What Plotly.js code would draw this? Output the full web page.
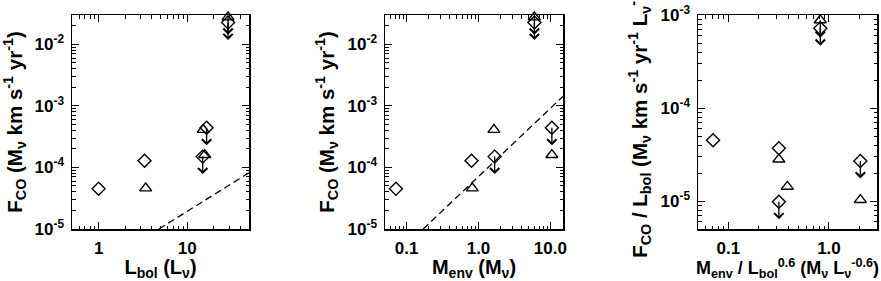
<!DOCTYPE html>
<html>
<head>
<meta charset="utf-8">
<script src="https://cdn.plot.ly/plotly-3.0.1.min.js"></script>
<style>html,body{margin:0;padding:0;background:#fff;}#chart{width:881px;height:281px;}</style>
</head>
<body>
<div id="chart"></div>
<script>
// ---- Data ----
// Panel 1: F_CO vs L_bol
const lbolDiamond = [1.0, 3.3, 16.6, 15.0, 29];
const fcoDiamond  = [4.5e-5, 1.28e-4, 4.4e-4, 1.5e-4, 0.0226];
const limDiamond  = [false, false, true, true, true];

const lbolTriangle = [3.4, 15.2, 15.8, 29];
const fcoTriangle  = [4.6e-5, 4.1e-4, 1.6e-4, 0.0276];
const limTriangle  = [false, false, false, true];

// Panel 2: F_CO vs M_env
const menvDiamond  = [0.071, 0.80, 10.5, 1.68, 6.0];
const menvTriangle = [0.82, 1.64, 10.5, 6.0];

// Panel 3: F_CO/L_bol vs M_env/L_bol^0.6
const ratioXDiamond  = [0.0705, 0.318, 2.05, 0.318, 0.82];
const ratioYDiamond  = [4.5e-5, 3.7e-5, 2.7e-5, 9.8e-6, 7.2e-4];
const ratioXTriangle = [0.386, 0.318, 2.05, 0.82];
const ratioYTriangle = [1.43e-5, 2.8e-5, 1.03e-5, 8.8e-4];

// Dashed relations (end points)
const relLbolX = [4.8, 50];
const relLbolY = [1.0e-5, 8.2e-5];
const relMenvX = [0.17, 15];
const relMenvY = [1.0e-5, 1.43e-3];

// Tick labels
const yTickVals12 = [1e-5, 1e-4, 1e-3, 1e-2];
const yTickText12 = ['10<sup>-5</sup>', '10<sup>-4</sup>', '10<sup>-3</sup>', '10<sup>-2</sup>'];
const yTickVals3  = [1e-5, 1e-4, 1e-3];
const yTickText3  = ['10<sup>-5</sup>', '10<sup>-4</sup>', '10<sup>-3</sup>'];
const xTickVals1 = [1, 10];       const xTickText1 = ['1', '10'];
const xTickVals2 = [0.1, 1, 10];  const xTickText2 = ['0.1', '1.0', '10.0'];
const xTickVals3 = [0.1, 1];      const xTickText3 = ['0.1', '1.0'];

// ---- Build ----
const W = 881, H = 281;
const FONT = 'Liberation Sans, Arial, Helvetica, sans-serif';
const markerD = {symbol: 'diamond-open', size: 10, color: 'black', line: {width: 1.4, color: 'black'}};
const markerT = {symbol: 'triangle-up-open', size: 10.5, color: 'black', line: {width: 1.4, color: 'black'}};

function pts(x, y, marker, xa, ya) {
  return {type: 'scatter', mode: 'markers', x: x, y: y, marker: marker,
          xaxis: xa, yaxis: ya, cliponaxis: false, hoverinfo: 'skip', showlegend: false};
}
function dashed(x, y, xa, ya) {
  return {type: 'scatter', mode: 'lines', x: x, y: y, xaxis: xa, yaxis: ya,
          line: {color: 'black', width: 1.3, dash: '7px,4px'}, hoverinfo: 'skip', showlegend: false};
}

const traces = [
  dashed(relLbolX, relLbolY, 'x', 'y'),
  pts(lbolDiamond, fcoDiamond, markerD, 'x', 'y'),
  pts(lbolTriangle, fcoTriangle, markerT, 'x', 'y'),
  dashed(relMenvX, relMenvY, 'x2', 'y2'),
  pts(menvDiamond, fcoDiamond, markerD, 'x2', 'y2'),
  pts(menvTriangle, fcoTriangle, markerT, 'x2', 'y2'),
  pts(ratioXDiamond, ratioYDiamond, markerD, 'x3', 'y3'),
  pts(ratioXTriangle, ratioYTriangle, markerT, 'x3', 'y3'),
];

// Upper-limit arrows (annotations, pointing downward a fixed pixel length)
const annotations = [];
function limits(xs, ys, flags, xr, yr) {
  xs.forEach((xv, i) => {
    if (!flags[i]) return;
    annotations.push({
      xref: xr, yref: yr, x: Math.log10(xv), y: Math.log10(ys[i]),
      axref: 'pixel', ayref: 'pixel', ax: 0, ay: 19, text: '',
      showarrow: true, arrowside: 'start', startarrowhead: 4, startarrowsize: 1.4,
      arrowwidth: 1.3, arrowcolor: 'black', startstandoff: 0, standoff: 0
    });
  });
}
limits(lbolDiamond, fcoDiamond, limDiamond, 'x', 'y');
limits(lbolTriangle, fcoTriangle, limTriangle, 'x', 'y');
limits(menvDiamond, fcoDiamond, limDiamond, 'x2', 'y2');
limits(menvTriangle, fcoTriangle, limTriangle, 'x2', 'y2');
limits(ratioXDiamond, ratioYDiamond, limDiamond, 'x3', 'y3');
limits(ratioXTriangle, ratioYTriangle, limTriangle, 'x3', 'y3');

const tickFont = {family: FONT, size: 17, color: 'black', weight: 'bold'};
const yTitleFont = {family: FONT, size: 20.5, color: 'black', weight: 'bold'};
const xTitleFont = {family: FONT, size: 20, color: 'black', weight: 'bold'};
const yDom = [(H - 229) / H, (H - 15) / H];

function axisBase() {
  return {
    type: 'log', showgrid: false, zeroline: false, showline: true, linecolor: 'black', linewidth: 1.5,
    mirror: 'allticks', ticks: 'inside', ticklen: 7, tickwidth: 1, tickcolor: 'black',
    tickmode: 'array', tickfont: tickFont, ticklabelstandoff: 3,
    minor: {ticks: 'inside', ticklen: 3.5, tickwidth: 1, tickcolor: 'black', dtick: 'D1', showgrid: false}
  };
}
function xAxis(dom, r, tv, tt, title, anchor, tsize) {
  return Object.assign(axisBase(), {domain: dom, range: r.map(Math.log10), tickvals: tv, ticktext: tt,
    anchor: anchor, title: {text: title, font: Object.assign({}, xTitleFont, {size: tsize})}});
}
function yAxis(r, tv, tt, title, anchor) {
  return Object.assign(axisBase(), {domain: yDom, range: r.map(Math.log10), tickvals: tv, ticktext: tt,
    anchor: anchor, title: {text: title, font: yTitleFont}});
}

const layout = {
  width: W, height: H, margin: {l: 0, r: 0, t: 0, b: 0}, paper_bgcolor: 'white', plot_bgcolor: 'white',
  font: {family: FONT, color: 'black'}, showlegend: false,
  xaxis:  xAxis([72 / W, 249 / W], [0.5, 50], xTickVals1, xTickText1, 'L<sub>bol</sub> (L<sub>ν</sub>)', 'y', 20),
  yaxis:  yAxis([1e-5, 0.03], yTickVals12, yTickText12, 'F<sub>CO</sub> (M<sub>ν</sub> km s<sup>-1</sup> yr<sup>-1</sup>)', 'x'),
  xaxis2: xAxis([385 / W, 563 / W], [0.05, 15], xTickVals2, xTickText2, 'M<sub>env</sub> (M<sub>ν</sub>)', 'y2', 20),
  yaxis2: yAxis([1e-5, 0.03], yTickVals12, yTickText12, 'F<sub>CO</sub> (M<sub>ν</sub> km s<sup>-1</sup> yr<sup>-1</sup>)', 'x2'),
  xaxis3: xAxis([698 / W, 877 / W], [0.05, 3], xTickVals3, xTickText3, 'M<sub>env</sub> / L<sub>bol</sub><sup>0.6</sup> (M<sub>ν</sub> L<sub>ν</sub><sup>-0.6</sup>)', 'y3', 18),
  yaxis3: yAxis([5e-6, 1e-3], yTickVals3, yTickText3, 'F<sub>CO</sub> / L<sub>bol</sub> (M<sub>ν</sub> km s<sup>-1</sup> yr<sup>-1</sup> L<sub>ν</sub><sup>-1</sup>)', 'x3'),
  annotations: annotations
};

Plotly.newPlot('chart', traces, layout, {staticPlot: true, displayModeBar: false});
</script>
</body>
</html>
